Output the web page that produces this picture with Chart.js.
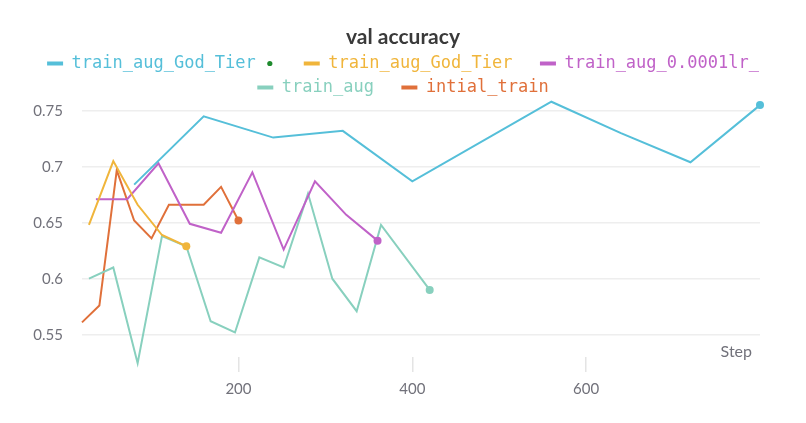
<!DOCTYPE html>
<html>
<head>
<meta charset="utf-8">
<script src="https://cdn.jsdelivr.net/npm/chart.js@4"></script>
<style>
  html, body { margin: 0; padding: 0; background: #fff; }
  #wrap { width: 806px; height: 423px; }
</style>
</head>
<body>
<div id="wrap"><canvas id="chart" width="806" height="423"></canvas></div>
<script>
// series: steps (x) and val accuracy (y)
const godTierSteps = [80, 160, 240, 320, 400, 560, 640, 720, 800]
const godTierVals = [0.684, 0.745, 0.726, 0.732, 0.687, 0.758, 0.730, 0.704, 0.755]

const godTier2Steps = [28, 56, 84, 112, 140]
const godTier2Vals = [0.648, 0.705, 0.666, 0.639, 0.629]

const lrSteps = [36, 72, 108, 144, 180, 216, 252, 288, 324, 360]
const lrVals = [0.671, 0.671, 0.703, 0.649, 0.641, 0.695, 0.626, 0.687, 0.657, 0.634]

const augSteps = [28, 56, 84, 112, 140, 168, 196, 224, 252, 280, 308, 336, 364, 420]
const augVals = [0.600, 0.610, 0.5245, 0.638, 0.629, 0.562, 0.552, 0.619, 0.610, 0.676, 0.600, 0.571, 0.648, 0.590]

const initSteps = [20, 40, 60, 80, 100, 120, 160, 180, 200]
const initVals = [0.561, 0.576, 0.697, 0.652, 0.636, 0.666, 0.666, 0.682, 0.652]

const seriesNames = ['train_aug_God_Tier', 'train_aug_God_Tier', 'train_aug_0.0001lr_', 'train_aug', 'intial_train']
const seriesColors = ['#55bfd9', '#f0b53b', '#c062c8', '#88d0be', '#e0703a']
const xTicks = [200, 400, 600]
const yTicks = [0.55, 0.6, 0.65, 0.7, 0.75]

const toPoints = (steps, vals) => steps.map((s, i) => ({ x: s, y: vals[i] }))
const allSeries = [
  toPoints(godTierSteps, godTierVals),
  toPoints(godTier2Steps, godTier2Vals),
  toPoints(lrSteps, lrVals),
  toPoints(augSteps, augVals),
  toPoints(initSteps, initVals)
]

const tickColor = '#71717a'
const legendFontSize = 17

// the extra gap after each legend item (wider after the first one, where the dot sits)
const legendGap = ['    ', '  ', '', '  ', '']

const extras = {
  id: 'extras',
  afterDraw (chart) {
    const ctx = chart.ctx
    const area = chart.chartArea
    ctx.save()
    ctx.font = '16px Lato'
    ctx.fillStyle = tickColor
    ctx.textAlign = 'right'
    ctx.textBaseline = 'middle'
    ctx.fillText('Step', area.right - 8, area.bottom - 5)

    // small green dot after the first legend item
    const box = chart.legend.legendHitBoxes[0]
    if (box) {
      ctx.font = legendFontSize + 'px "DejaVu Sans Mono"'
      const tw = ctx.measureText(seriesNames[0]).width
      const x = box.left + 16 + legendFontSize / 2 + tw + 14
      ctx.beginPath()
      ctx.arc(x, box.top + legendFontSize / 2, 2.6, 0, Math.PI * 2)
      ctx.fillStyle = '#1e8a2e'
      ctx.fill()
    }
    ctx.restore()
  }
}

new Chart(document.getElementById('chart'), {
  type: 'line',
  data: {
    datasets: allSeries.map((pts, i) => ({
      label: seriesNames[i],
      data: pts,
      borderColor: seriesColors[i],
      backgroundColor: seriesColors[i],
      borderWidth: 2,
      clip: false,
      pointRadius: c => c.dataIndex === c.dataset.data.length - 1 ? 4 : 0,
      pointBorderWidth: 0,
      pointHoverRadius: 4,
      tension: 0
    }))
  },
  options: {
    responsive: false,
    animation: false,
    layout: { padding: { top: 17, left: 0, right: 0, bottom: 0 } },
    plugins: {
      title: {
        display: true,
        text: 'val accuracy',
        color: '#3a3a3a',
        font: { family: 'Lato', size: 21, weight: 'bold', lineHeight: 1 },
        padding: { top: 10, bottom: 0 }
      },
      legend: {
        display: true,
        position: 'top',
        labels: {
          boxWidth: 16,
          boxHeight: 4,
          padding: 7,
          font: { family: 'DejaVu Sans Mono', size: legendFontSize },
          generateLabels: chart => chart.data.datasets.map((ds, i) => ({
            text: ds.label + legendGap[i],
            fillStyle: ds.borderColor,
            strokeStyle: ds.borderColor,
            fontColor: ds.borderColor,
            lineWidth: 0,
            hidden: false,
            datasetIndex: i
          }))
        }
      },
      tooltip: { enabled: false }
    },
    scales: {
      x: {
        type: 'linear',
        min: 20,
        max: 800,
        afterBuildTicks: a => { a.ticks = xTicks.map(v => ({ value: v })) },
        afterFit: a => { a.height = 66 },
        border: { display: false },
        grid: { drawOnChartArea: false, drawTicks: true, tickLength: 15, color: '#e4e4e4', lineWidth: 1.5 },
        ticks: { color: tickColor, padding: 8, font: { family: 'Lato', size: 15 } }
      },
      y: {
        type: 'linear',
        min: 0.5301,
        max: 0.7542,
        afterBuildTicks: a => { a.ticks = yTicks.map(v => ({ value: v })) },
        afterFit: a => { a.width = 82 },
        border: { display: false },
        grid: { color: '#eeeeee', lineWidth: 1.5, drawTicks: false },
        ticks: { color: tickColor, padding: 19, font: { family: 'Lato', size: 15 }, callback: v => String(v) }
      },
      yRight: {
        type: 'linear',
        position: 'right',
        display: true,
        afterFit: a => { a.width = 46 },
        border: { display: false },
        grid: { display: false },
        ticks: { display: false }
      }
    }
  },
  plugins: [extras]
})
</script>
</body>
</html>
